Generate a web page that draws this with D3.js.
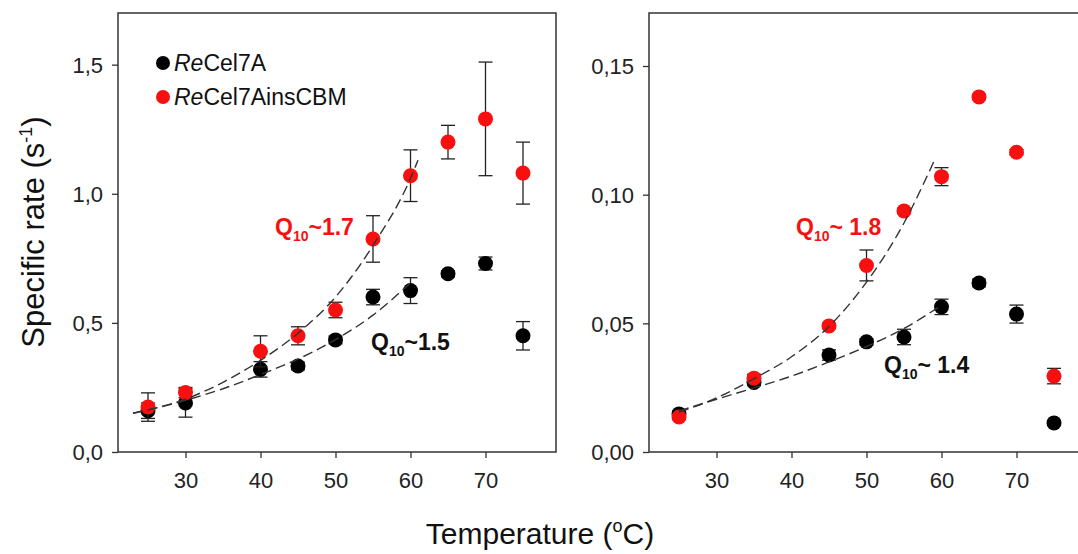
<!DOCTYPE html>
<html>
<head>
<meta charset="utf-8">
<script src="https://d3js.org/d3.v7.min.js"></script>
<style>
  body { margin: 0; background: #fff; }
  svg { display: block; font-family: "Liberation Sans", Arial, sans-serif; }
  .tick text { font-size: 22px; fill: #222; }
  .tick line { stroke: #333; stroke-width: 1.3; }
  .frame { fill: none; stroke: #333; stroke-width: 1.5; }
  .fit { fill: none; stroke: #333; stroke-width: 1.4; stroke-dasharray: 10 5; }
  .err { stroke: #222; stroke-width: 1.3; }
</style>
</head>
<body>
<div id="chart"></div>
<script>
// left panel data (s^-1)
const tempsA = [25, 30, 40, 45, 50, 55, 60, 65, 70, 75];
const blackA = [0.16, 0.19, 0.32, 0.333, 0.434, 0.60, 0.625, 0.69, 0.73, 0.45];
const blackErrA = [0.03, 0.055, 0.03, 0.015, 0.015, 0.03, 0.05, 0.012, 0.025, 0.055];
const redA = [0.174, 0.23, 0.39, 0.45, 0.55, 0.825, 1.07, 1.20, 1.29, 1.08];
const redErrA = [0.055, 0.02, 0.06, 0.035, 0.03, 0.09, 0.10, 0.065, 0.22, 0.12];

// fitted Q10 curves
const fitTempsRedA = [23, 30, 35, 40, 45, 50, 55, 60, 61];
const fitRedA = [0.15, 0.205, 0.27, 0.355, 0.46, 0.60, 0.80, 1.06, 1.13];
const fitTempsBlackA = [23, 30, 35, 40, 45, 50, 55, 60];
const fitBlackA = [0.15, 0.20, 0.245, 0.30, 0.36, 0.435, 0.53, 0.655];

// right panel data (s^-1)
const tempsB = [25, 35, 45, 50, 55, 60, 65, 70, 75];
const blackB = [0.0148, 0.027, 0.0377, 0.0428, 0.0447, 0.0564, 0.0657, 0.0536, 0.0113];
const blackErrB = [0.0012, 0.0012, 0.002, 0.0012, 0.003, 0.003, 0.0015, 0.0035, 0.0008];
const redB = [0.0136, 0.0287, 0.049, 0.0725, 0.0937, 0.107, 0.138, 0.1165, 0.0295];
const redErrB = [0.001, 0.0015, 0.001, 0.006, 0.001, 0.0035, 0.001, 0.001, 0.003];

const fitTempsRedB = [25, 30, 35, 40, 45, 50, 55, 59];
const fitRedB = [0.0155, 0.021, 0.0285, 0.037, 0.0488, 0.066, 0.089, 0.113];
const fitTempsBlackB = [25, 30, 35, 40, 45, 50, 55, 60];
const fitBlackB = [0.016, 0.0205, 0.0249, 0.0295, 0.035, 0.041, 0.048, 0.057];

const xTicks = [30, 40, 50, 60, 70];
const yTicksA = [0, 0.5, 1.0, 1.5];
const yTicksB = [0, 0.05, 0.10, 0.15];
const seriesNames = ["Cel7A", "Cel7AinsCBM"];

const RED = "#f81010", BLACK = "#000";

const svg = d3.select("#chart").append("svg")
    .attr("width", 1078)
    .attr("height", 554);

const comma = f => v => d3.format(f)(v).replace(".", ",");

function panel(opt) {
    const x = d3.scaleLinear().domain([21, 79.4]).range([opt.left, opt.left + 438]);
    const y = d3.scaleLinear().domain([0, opt.ymax]).range([452, 13]);
    const g = svg.append("g");

    g.append("rect").attr("class", "frame")
        .attr("x", x.range()[0]).attr("y", 13)
        .attr("width", 438).attr("height", 439);

    g.append("g")
        .attr("transform", "translate(0,452)")
        .call(d3.axisBottom(x).tickValues(xTicks).tickSize(6).tickPadding(14).tickSizeOuter(0))
        .call(a => a.select(".domain").remove());

    g.append("g")
        .attr("transform", "translate(" + opt.left + ",0)")
        .call(d3.axisLeft(y).tickValues(opt.yTicks).tickSize(6).tickPadding(9)
            .tickFormat(comma(opt.fmt)).tickSizeOuter(0))
        .call(a => a.select(".domain").remove())
        .selectAll("text").attr("dy", "0.36em");

    const series = [
        {v: opt.black, e: opt.blackErr, c: BLACK},
        {v: opt.red, e: opt.redErr, c: RED}
    ];

    series.forEach(s => {
        const pts = opt.temps.map((t, i) => ({t: t, v: s.v[i], e: s.e[i]}));
        const eb = g.append("g");
        eb.selectAll("line.v").data(pts).enter().append("line")
            .attr("class", "err")
            .attr("x1", d => x(d.t)).attr("x2", d => x(d.t))
            .attr("y1", d => y(d.v - d.e)).attr("y2", d => y(d.v + d.e));
        [-1, 1].forEach(sg => {
            eb.selectAll("line.c" + sg).data(pts).enter().append("line")
                .attr("class", "err")
                .attr("x1", d => x(d.t) - 7).attr("x2", d => x(d.t) + 7)
                .attr("y1", d => y(d.v + sg * d.e)).attr("y2", d => y(d.v + sg * d.e));
        });
        g.append("g").selectAll("circle").data(pts).enter().append("circle")
            .attr("cx", d => x(d.t)).attr("cy", d => y(d.v))
            .attr("r", 7.5).attr("fill", s.c);
    });

    const line = d3.line().x(d => x(d[0])).y(d => y(d[1])).curve(d3.curveMonotoneX);
    g.append("path").attr("class", "fit")
        .attr("d", line(opt.fitTR.map((t, i) => [t, opt.fitR[i]])));
    g.append("path").attr("class", "fit")
        .attr("d", line(opt.fitTB.map((t, i) => [t, opt.fitB[i]])));

    opt.labels.forEach(l => {
        const t = g.append("text")
            .attr("x", l.x).attr("y", l.y)
            .attr("fill", l.c)
            .style("font-weight", "bold").style("font-size", "23px");
        t.append("tspan").text("Q");
        t.append("tspan").attr("dy", 6).style("font-size", "14px").text("10");
        t.append("tspan").attr("dy", -6).text(l.txt);
    });
}

panel({
    left: 118, ymax: 1.7, yTicks: yTicksA, fmt: ".1f",
    temps: tempsA, black: blackA, blackErr: blackErrA, red: redA, redErr: redErrA,
    fitTR: fitTempsRedA, fitR: fitRedA, fitTB: fitTempsBlackA, fitB: fitBlackA,
    labels: [
        {x: 275, y: 235, c: RED, txt: "~1.7"},
        {x: 371, y: 350, c: "#111", txt: "~1.5"}
    ]
});

panel({
    left: 649, ymax: 0.1706, yTicks: yTicksB, fmt: ".2f",
    temps: tempsB, black: blackB, blackErr: blackErrB, red: redB, redErr: redErrB,
    fitTR: fitTempsRedB, fitR: fitRedB, fitTB: fitTempsBlackB, fitB: fitBlackB,
    labels: [
        {x: 796, y: 235, c: RED, txt: "~ 1.8"},
        {x: 884, y: 373, c: "#111", txt: "~ 1.4"}
    ]
});

// legend
const legend = svg.append("g").attr("transform", "translate(163,63)");
[BLACK, RED].forEach((c, i) => {
    const row = legend.append("g").attr("transform", "translate(0," + i * 34 + ")");
    row.append("circle").attr("r", 7).attr("fill", c);
    const t = row.append("text").attr("x", 11).attr("dy", "0.36em")
        .style("font-size", "23px").attr("fill", "#111");
    t.append("tspan").style("font-style", "italic").text("Re");
    t.append("tspan").text(seriesNames[i]);
});

// axis titles
const yt = svg.append("text")
    .attr("transform", "translate(44,232) rotate(-90)")
    .attr("text-anchor", "middle")
    .style("font-size", "31px").attr("fill", "#111");
yt.append("tspan").text("Specific rate (s");
yt.append("tspan").attr("dy", -12).style("font-size", "18px").text("-1");
yt.append("tspan").attr("dy", 12).text(")");

const xt = svg.append("text")
    .attr("x", 540).attr("y", 544)
    .attr("text-anchor", "middle")
    .style("font-size", "30px").attr("fill", "#111");
xt.append("tspan").text("Temperature (");
xt.append("tspan").attr("dy", -12).style("font-size", "18px").text("o");
xt.append("tspan").attr("dy", 12).text("C)");
</script>
</body>
</html>
